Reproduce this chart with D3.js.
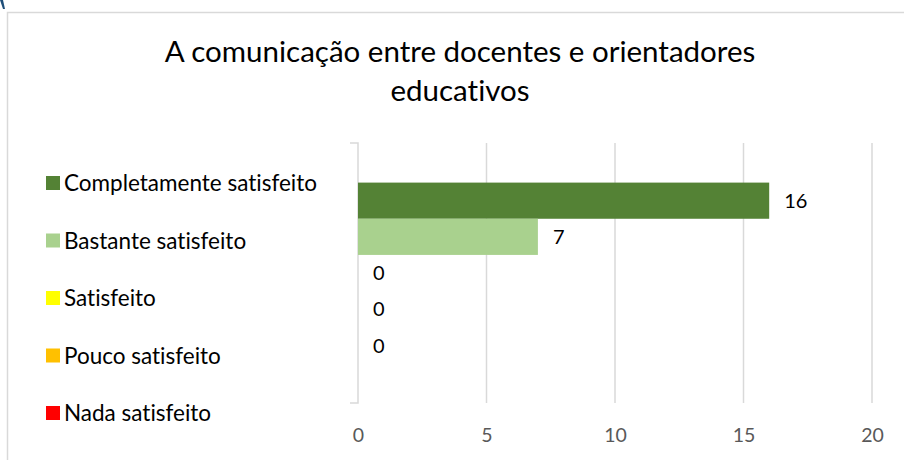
<!DOCTYPE html>
<html>
<head>
<meta charset="utf-8">
<script src="https://cdn.jsdelivr.net/npm/d3@7"></script>
<style>
  html, body { margin: 0; padding: 0; background: #fff; }
  svg { display: block; }
  text { font-family: Lato, "Open Sans", sans-serif; font-variant-ligatures: none; }
</style>
</head>
<body>
<svg id="chart" width="904" height="460"></svg>
<script>
// Survey answers: one category, five satisfaction levels
const titleLines = ["A comunicação entre docentes e orientadores", "educativos"];
const category = ["A comunicação entre docentes e orientadores educativos"];
const seriesNames = ["Completamente satisfeito", "Bastante satisfeito", "Satisfeito", "Pouco satisfeito", "Nada satisfeito"];
const seriesValues = [16, 7, 0, 0, 0];
const seriesColors = ["#548235", "#a9d18e", "#ffff00", "#ffc000", "#ff0000"];
const xTicks = [0, 5, 10, 15, 20];

const svg = d3.select("#chart");

// outer chart frame
svg.append("rect")
  .attr("x", 7.5).attr("y", 12.5)
  .attr("width", 910).attr("height", 460)
  .attr("fill", "#fff")
  .attr("stroke", "#d9d9d9").attr("stroke-width", 1.5);

// small corner mark at the top left
svg.append("path")
  .attr("d", "M0,0 L3,0 L5,9 L3,9 Z")
  .attr("fill", "#1f4e79");

// title
svg.append("text")
  .attr("text-anchor", "middle")
  .attr("font-size", 29.5)
  .attr("fill", "#000")
  .selectAll("tspan").data(titleLines).join("tspan")
  .attr("x", 460)
  .attr("y", (d, i) => 62 + i * 38.5)
  .text(d => d);

const plot = { left: 358, right: 872, top: 143, bottom: 403 };

const x = d3.scaleLinear().domain([0, 20]).range([plot.left, plot.right]);

// category band; gap width 219% → outer padding of 1.095 bar heights
const barH = (plot.bottom - plot.top) / (seriesNames.length + 2.19);
const groupH = barH * seriesNames.length;
const y0 = d3.scaleBand().domain(category)
  .range([plot.top, plot.bottom])
  .paddingInner(0)
  .paddingOuter(((plot.bottom - plot.top) / groupH - 1) / 2);
const y1 = d3.scaleBand().domain(seriesNames).range([0, y0.bandwidth()]);

// vertical gridlines
svg.append("g")
  .selectAll("line").data(xTicks.filter(t => t > 0)).join("line")
  .attr("x1", d => x(d)).attr("x2", d => x(d))
  .attr("y1", plot.top).attr("y2", plot.bottom)
  .attr("stroke", "#d9d9d9").attr("stroke-width", 1.5);

// x axis tick labels
const xAxis = d3.axisBottom(x).tickValues(xTicks).tickSize(0).tickPadding(0);
const gx = svg.append("g").attr("transform", `translate(0,${plot.bottom})`).call(xAxis);
gx.select(".domain").remove();
gx.selectAll("text")
  .attr("dy", 0).attr("y", 39)
  .attr("font-size", 19.5)
  .attr("font-family", "Lato, 'Open Sans', sans-serif")
  .attr("fill", "#595959");

// category axis line with end ticks
const yAxis = d3.axisLeft(y0).tickSize(0).tickFormat("");
const gy = svg.append("g").attr("transform", `translate(${plot.left},0)`).call(yAxis);
gy.select(".domain").remove();
gy.append("path")
  .attr("d", `M${-8},${plot.top} H0 V${plot.bottom} H${-8}`)
  .attr("fill", "none")
  .attr("stroke", "#d9d9d9").attr("stroke-width", 1.5);

// bars
const rows = seriesNames.map((name, i) => ({ name, value: seriesValues[i], color: seriesColors[i] }));
const g = svg.append("g").attr("transform", `translate(0,${y0(category[0])})`);
g.selectAll("rect").data(rows).join("rect")
  .attr("x", x(0))
  .attr("y", d => y1(d.name))
  .attr("width", d => x(d.value) - x(0))
  .attr("height", y1.bandwidth())
  .attr("fill", d => d.color);

// value labels
g.selectAll("text.val").data(rows).join("text")
  .attr("class", "val")
  .attr("x", d => x(d.value) + 15)
  .attr("y", d => y1(d.name) + y1.bandwidth() / 2)
  .attr("dy", "0.36em")
  .attr("font-size", 20)
  .attr("fill", "#000")
  .text(d => d.value);

// legend
const legend = svg.append("g");
const item = legend.selectAll("g").data(rows).join("g")
  .attr("transform", (d, i) => `translate(46,${183 + i * 57.5})`);
item.append("rect")
  .attr("x", 0).attr("y", -7)
  .attr("width", 14).attr("height", 14)
  .attr("fill", d => d.color);
item.append("text")
  .attr("x", 18).attr("y", 0)
  .attr("dy", "0.36em")
  .attr("font-size", 22.5)
  .attr("fill", "#000")
  .text(d => d.name);
</script>
</body>
</html>
